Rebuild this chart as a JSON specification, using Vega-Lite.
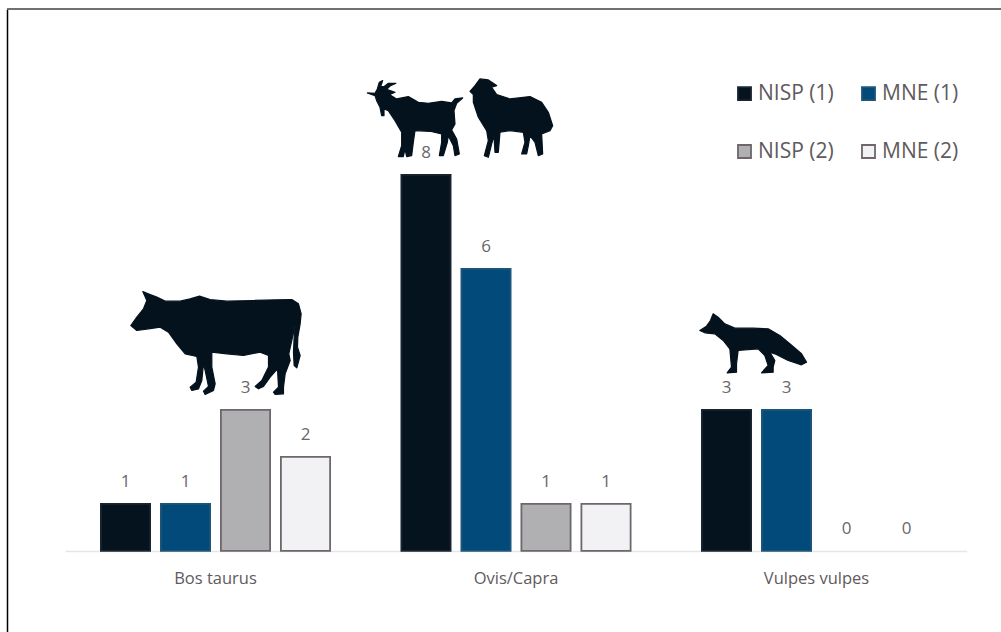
{"$schema":"https://vega.github.io/schema/vega-lite/v6.json","autosize":{"type":"none"},"padding":{"left":7,"top":9,"right":0,"bottom":0},"width":994,"height":623,"background":"white","view":{"stroke":null},"config":{"font":"Open Sans"},
"datasets":{"counts":[
{"taxon":"Bos taurus","group":"NISP (1)","value":1},{"taxon":"Bos taurus","group":"MNE (1)","value":1},{"taxon":"Bos taurus","group":"NISP (2)","value":3},{"taxon":"Bos taurus","group":"MNE (2)","value":2},
{"taxon":"Ovis/Capra","group":"NISP (1)","value":8},{"taxon":"Ovis/Capra","group":"MNE (1)","value":6},{"taxon":"Ovis/Capra","group":"NISP (2)","value":1},{"taxon":"Ovis/Capra","group":"MNE (2)","value":1},
{"taxon":"Vulpes vulpes","group":"NISP (1)","value":3},{"taxon":"Vulpes vulpes","group":"MNE (1)","value":3},{"taxon":"Vulpes vulpes","group":"NISP (2)","value":0},{"taxon":"Vulpes vulpes","group":"MNE (2)","value":0}],
"animals":[
{"taxon":"Bos taurus","group":"NISP (1)","level":5.755,"animal":"cow"},
{"taxon":"Ovis/Capra","group":"NISP (1)","level":10.22,"animal":"goat"},
{"taxon":"Ovis/Capra","group":"MNE (1)","level":10.22,"animal":"sheep"},
{"taxon":"Vulpes vulpes","group":"NISP (1)","level":5.223,"animal":"fox"}],
"frame":[{"top":11.531}]},
"encoding":{
"x":{"field":"taxon","type":"nominal","sort":["Bos taurus","Ovis/Capra","Vulpes vulpes"],"scale":{"range":[58.25,959.75],"paddingInner":0,"paddingOuter":0},"axis":{"title":null,"orient":"bottom","offset":-81,"labelAngle":0,"ticks":false,"domainColor":"#e6e6e8","domainWidth":1.5,"labelColor":"#5f5a5e","labelFontSize":16.5,"labelPadding":19,"labelFont":"Open Sans"}},
"xOffset":{"field":"group","type":"nominal","sort":["NISP (1)","MNE (1)","NISP (2)","MNE (2)"],"scale":{"domain":["NISP (1)","MNE (1)","NISP (2)","MNE (2)"],"paddingInner":0.18,"paddingOuter":0.594}},
"y":{"type":"quantitative","scale":{"domain":[-1.724,11.531],"nice":false,"zero":false},"axis":{"title":null,"orient":"left","labels":false,"ticks":false,"grid":false,"domain":true,"domainColor":"#000000","domainWidth":1.5}}},
"layer":[
{"data":{"name":"counts"},"transform":[{"filter":"datum.value > 0"}],"mark":{"type":"bar","strokeWidth":1.8},
"encoding":{"y":{"field":"value","type":"quantitative"},"y2":{"datum":0},
"fill":{"field":"group","type":"nominal","scale":{"domain":["NISP (1)","MNE (1)","NISP (2)","MNE (2)"],"range":["#05131f","#024a7a","#b0b0b2","#f2f2f4"]},"legend":{"title":null,"orient":"none","legendX":727,"legendY":74,"direction":"horizontal","columns":2,"symbolType":"square","symbolSize":170,"symbolStrokeWidth":1.8,"labelFontSize":21,"labelColor":"#5f5a5e","labelFont":"Open Sans","rowPadding":36,"columnPadding":24,"labelOffset":3}},
"stroke":{"field":"group","type":"nominal","scale":{"domain":["NISP (1)","MNE (1)","NISP (2)","MNE (2)"],"range":["#1a2530","#1f5578","#6e666c","#6e666c"]},"legend":{"title":null,"orient":"none","legendX":727,"legendY":74,"direction":"horizontal","columns":2,"symbolType":"square","symbolSize":170,"symbolStrokeWidth":1.8,"labelFontSize":21,"labelColor":"#5f5a5e","labelFont":"Open Sans","rowPadding":36,"columnPadding":24,"labelOffset":3}}}},
{"data":{"name":"counts"},"mark":{"type":"text","dy":-22,"baseline":"middle","fontSize":17,"color":"#6b666a","font":"Open Sans"},
"encoding":{"y":{"field":"value","type":"quantitative"},"text":{"field":"value","type":"quantitative"}}},
{"data":{"name":"animals"},"mark":{"type":"point","filled":true,"opacity":1,"color":"#04121e","stroke":"#04121e","strokeWidth":1.2,"strokeJoin":"round","size":0.4444},
"encoding":{"y":{"field":"level","type":"quantitative"},
"shape":{"field":"animal","type":"nominal","legend":null,"scale":{"domain":["cow","goat","sheep","fox"],"range":[
"M52 33L74 42L94 50L119 62L164 62L194 55L222 47L254 57L304 62L384 60L454 58L499 57L519 70L527 100L524 130L517 170L516 200L524 225L514 262L506 255L504 215L506 170L506 135L500 175L490 220L494 240L479 280L474 320L474 340L449 342L444 335L459 320L456 265L434 290L414 318L399 325L389 318L409 300L429 260L429 225L404 215L354 225L304 220L259 215L259 260L269 310L264 330L239 342L234 332L249 318L239 270L234 250L229 300L219 325L199 330L194 320L212 305L219 260L214 228L179 220L154 190L129 155L104 140L69 145L34 150L16 135L34 110L54 85L64 60Z",
"M-176 67L-153 68L-146 55L-140 35L-130 30L-136 48L-126 48L-113 38L-90 38L-108 46L-118 56L-93 65L-110 72L-88 85L-53 78L-23 95L7 98L47 92L77 97L87 85L110 82L92 98L84 120L87 160L77 178L92 205L100 250L87 255L82 225L67 195L64 215L52 255L40 255L47 215L47 190L12 182L-33 180L-38 215L-43 255L-58 258L-63 235L-68 258L-83 258L-73 225L-73 185L-93 150L-113 120L-126 115L-126 135L-133 135L-138 110L-148 90L-153 75Z",
"M-48 62L-33 45L-18 25L7 28L32 45L17 50L32 72L72 85L132 78L167 95L187 125L200 165L192 180L167 190L170 250L157 255L147 215L132 195L127 225L122 250L107 250L117 215L112 185L72 180L42 185L37 245L27 245L24 195L17 220L7 260L-5 255L7 210L2 180L-23 140L-38 95L-38 72Z",
"M-80 75L-60 62L-48 45L-40 25L-25 35L-5 55L25 68L80 68L125 70L160 90L190 115L225 145L240 170L225 178L185 165L145 145L130 140L145 165L140 185L140 200L105 202L125 180L115 150L95 130L35 135L30 175L30 200L2 202L15 185L10 130L-10 105L-35 85L-65 82Z"]}}}},
{"data":{"name":"frame"},"mark":{"type":"rule","color":"#707070","strokeWidth":2},"encoding":{"x":null,"xOffset":null,"y":{"field":"top","type":"quantitative"}}}
]}
